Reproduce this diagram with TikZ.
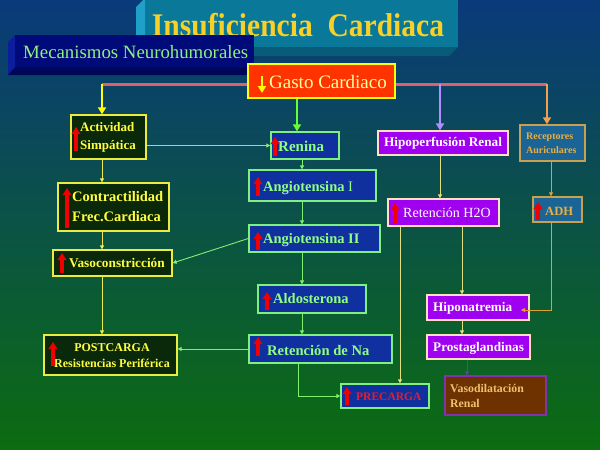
\documentclass[tikz,border=0pt]{standalone}
\usepackage{fontspec}
\setmainfont{Liberation Serif}
\usetikzlibrary{arrows.meta}
\definecolor{bgtop}{RGB}{10,58,122}
\definecolor{bgbot}{RGB}{12,108,16}
\definecolor{titleface}{RGB}{10,120,152}
\definecolor{titleleft}{RGB}{30,160,200}
\definecolor{titlebot}{RGB}{8,92,120}
\definecolor{titletext}{RGB}{248,208,40}
\definecolor{mecface}{RGB}{0,10,120}
\definecolor{mecleft}{RGB}{12,30,155}
\definecolor{mecbot}{RGB}{0,6,88}
\definecolor{mectext}{RGB}{144,240,128}
\definecolor{gastofill}{RGB}{255,51,0}
\definecolor{gastoborder}{RGB}{255,255,0}
\definecolor{gastotext}{RGB}{255,255,160}
\definecolor{pinkline}{RGB}{224,96,106}
\definecolor{ydrop}{RGB}{255,255,0}
\definecolor{gdrop}{RGB}{102,255,51}
\definecolor{ldrop}{RGB}{176,144,255}
\definecolor{odrop}{RGB}{240,160,80}
\definecolor{yfill}{RGB}{10,40,10}
\definecolor{yborder}{RGB}{236,236,64}
\definecolor{ytext}{RGB}{255,255,64}
\definecolor{yline}{RGB}{236,236,80}
\definecolor{gfill}{RGB}{16,48,160}
\definecolor{gborder}{RGB}{128,240,128}
\definecolor{gtext}{RGB}{144,255,128}
\definecolor{gline}{RGB}{128,240,112}
\definecolor{pfill}{RGB}{160,0,240}
\definecolor{pborder}{RGB}{255,224,192}
\definecolor{pline}{RGB}{224,224,128}
\definecolor{ofill}{RGB}{26,100,150}
\definecolor{oborder}{RGB}{200,160,80}
\definecolor{otext}{RGB}{232,176,64}
\definecolor{oline}{RGB}{224,160,48}
\definecolor{vfill}{RGB}{110,50,0}
\definecolor{vborder}{RGB}{130,50,170}
\definecolor{vtext}{RGB}{240,192,112}
\definecolor{vline}{RGB}{120,48,200}
\definecolor{prectext}{RGB}{224,32,48}
\definecolor{redarr}{RGB}{240,0,0}
\begin{document}
\begin{tikzpicture}[x=1pt,y=-1pt,
  boxbase/.style={inner sep=0pt, line width=1.3pt},
  ybox/.style={boxbase, draw=yborder, fill=yfill},
  gbox/.style={boxbase, draw=gborder, fill=gfill},
  pbox/.style={boxbase, draw=pborder, fill=pfill},
  obox/.style={boxbase, draw=oborder, fill=ofill},
  vbox/.style={boxbase, draw=vborder, fill=vfill},
  txt/.style={inner sep=0pt, anchor=west, align=left},
  thin/.style={line width=0.9pt, -{Triangle[length=4pt,width=4pt]}},
  ylc/.style={thin, draw=yline},
  glc/.style={thin, draw=gline},
  plc/.style={thin, draw=pline},
  olc/.style={thin, draw=oline},
  vlc/.style={thin, draw=vline},
  drop/.style={line width=2.6pt, -{Triangle[length=7pt,width=8pt]}},
  redup/.style={draw=redarr, line width=3.5pt, -{Triangle[length=7pt,width=8.5pt]}}
]
\useasboundingbox (0,0) rectangle (600,450);
\shade[top color=bgtop, bottom color=bgbot] (0,0) rectangle (600,450);

% title box
\fill[titleface] (145,-2) rectangle (458,47);
\fill[titleleft] (145,-2) -- (136,7) -- (136,56) -- (145,47) -- cycle;
\fill[titlebot] (145,47) -- (136,56) -- (449,56) -- (458,47) -- cycle;
\node[inner sep=0pt, xscale=0.895, font=\bfseries\fontsize{33}{36}\selectfont, text=titletext] (title) at (298,25) {Insuficiencia\ \ Cardiaca};

% subtitle box
\fill[mecface] (15,35) rectangle (254,67);
\fill[mecleft] (15,35) -- (8,42) -- (8,75) -- (15,67) -- cycle;
\fill[mecbot] (15,67) -- (8,75) -- (246,75) -- (254,67) -- cycle;
\node[txt, font=\fontsize{18.8}{22}\selectfont, text=mectext] (mec) at (23,52) {Mecanismos Neurohumorales};

% distribution line
\coordinate (pl1) at (102,84);
\coordinate (pl2) at (440,84);
\coordinate (pl3) at (547,84);
\draw[pinkline, line width=3pt] (pl1) -- (pl3);

% Gasto Cardiaco
\node[inner sep=0pt, draw=gastoborder, fill=gastofill, line width=2pt, minimum width=147pt, minimum height=34pt] (gasto) at (321.5,81) {};
\node[txt, font=\fontsize{19}{22}\selectfont, text=gastotext] (tgasto) at (269,82) {Gasto Cardiaco};
\draw[gastoborder, line width=2.5pt, -{Triangle[length=7pt,width=8pt]}] (262,76) -- (262,93);

% boxes
\node[ybox, minimum width=75pt, minimum height=44pt] (act) at (108.5,137) {};
\node[ybox, minimum width=111pt, minimum height=48pt] (con) at (113.5,207) {};
\node[ybox, minimum width=119pt, minimum height=26pt] (vaso) at (112.5,263) {};
\node[ybox, minimum width=133pt, minimum height=40pt] (post) at (110.5,355) {};
\node[gbox, minimum width=68pt, minimum height=27pt] (ren) at (305,145.5) {};
\node[gbox, minimum width=127pt, minimum height=31pt] (ang1) at (312.5,185.5) {};
\node[gbox, minimum width=131pt, minimum height=27pt] (ang2) at (314.5,238.5) {};
\node[gbox, minimum width=108pt, minimum height=28pt] (aldo) at (312,299) {};
\node[gbox, minimum width=143pt, minimum height=28pt] (retna) at (320.5,349) {};
\node[gbox, minimum width=88pt, minimum height=24pt] (prec) at (385,396) {};
\node[pbox, minimum width=130pt, minimum height=24pt] (hipo) at (443,143) {};
\node[pbox, minimum width=111pt, minimum height=27pt] (rh2o) at (443.5,212.5) {};
\node[obox, minimum width=65pt, minimum height=36pt] (recep) at (552.5,143) {};
\node[obox, minimum width=49pt, minimum height=25pt] (adh) at (557.5,209.5) {};
\node[pbox, minimum width=102pt, minimum height=25pt] (hipon) at (478,307.5) {};
\node[pbox, minimum width=103pt, minimum height=24pt] (prost) at (478.5,347) {};
\node[vbox, minimum width=101pt, minimum height=39pt] (vasod) at (495.5,395.5) {};

% texts
\node[txt, font=\bfseries\fontsize{13}{18}\selectfont, text=ytext] (tact) at (80,137) {Actividad\\Simpática};
\node[txt, font=\bfseries\fontsize{14.5}{20}\selectfont, text=ytext] (tcon) at (72,207) {Contractilidad\\Frec.Cardiaca};
\node[txt, font=\bfseries\fontsize{13.3}{16}\selectfont, text=ytext] (tvaso) at (69,263) {Vasoconstricción};
\node[inner sep=0pt, align=center, font=\bfseries\fontsize{12}{16}\selectfont, text=ytext] (tpost) at (112,356) {POSTCARGA\\Resistencias Periférica};
\node[txt, font=\bfseries\fontsize{15}{18}\selectfont, text=gtext] (tren) at (278,146) {Renina};
\node[txt, font=\bfseries\fontsize{14.5}{18}\selectfont, text=gtext] (tang1) at (263,188) {Angiotensina \mdseries I};
\node[txt, font=\bfseries\fontsize{14.5}{18}\selectfont, text=gtext] (tang2) at (263,240) {Angiotensina II};
\node[txt, font=\bfseries\fontsize{14.5}{18}\selectfont, text=gtext] (taldo) at (273,299) {Aldosterona};
\node[txt, font=\bfseries\fontsize{14.6}{18}\selectfont, text=gtext] (tretna) at (267,350) {Retención de Na};
\node[txt, font=\bfseries\fontsize{11.5}{14}\selectfont, text=prectext] (tprec) at (356,397) {PRECARGA};
\node[txt, font=\bfseries\fontsize{13.2}{16}\selectfont, text=white] (thipo) at (384,143) {Hipoperfusión Renal};
\node[txt, font=\fontsize{14}{17}\selectfont, text=white] (trh2o) at (403,213) {Retención H2O};
\node[txt, font=\bfseries\fontsize{10}{14}\selectfont, text=otext] (trecep) at (526,143) {Receptores\\Auriculares};
\node[txt, font=\bfseries\fontsize{12.6}{15}\selectfont, text=otext] (tadh) at (545,211) {ADH};
\node[txt, font=\bfseries\fontsize{13.2}{16}\selectfont, text=white] (thipon) at (433,308) {Hiponatremia};
\node[txt, font=\bfseries\fontsize{13.2}{16}\selectfont, text=white] (tprost) at (433,348) {Prostaglandinas};
\node[txt, font=\bfseries\fontsize{11.8}{15}\selectfont, text=vtext] (tvasod) at (450,395.5) {Vasodilatación\\Renal};

% red arrows
\draw[redup] (76,151) -- (76,127);
\draw[redup] (67,228) -- (67,188);
\draw[redup] (62,273) -- (62,253);
\draw[redup] (53,366) -- (53,342);
\draw[redup] (275,156) -- (275,137);
\draw[redup] (258,196) -- (258,177);
\draw[redup] (258,250) -- (258,232);
\draw[redup] (267,310) -- (267,292);
\draw[redup] (258,356) -- (258,337);
\draw[redup] (347,405) -- (347,387);
\draw[redup] (395,224) -- (395,203);
\draw[redup] (538,220) -- (538,202);

% drop arrows from distribution line
\coordinate (gx) at (297,0);
\draw[drop, ydrop] (pl1) -- (pl1 |- act.north);
\draw[drop, gdrop] (gx |- gasto.south) -- (gx |- ren.north);
\draw[drop, ldrop] (pl2) -- (pl2 |- hipo.north);
\draw[drop, odrop] (pl3) -- (pl3 |- recep.north);

% columns
\coordinate (lx) at (102,0);
\coordinate (mx) at (302,0);
\coordinate (rx) at (298,0);
\coordinate (hx) at (440,0);
\coordinate (px) at (400,0);
\coordinate (kx) at (462,0);
\coordinate (vx) at (467,0);
\coordinate (ax) at (551,0);
\coordinate (hend) at (521,310);

% connectors
\draw[ylc] (lx |- act.south) -- (lx |- con.north);
\draw[ylc] (lx |- con.south) -- (lx |- vaso.north);
\draw[ylc] (lx |- vaso.south) -- (lx |- post.north);
\draw[glc] (act.east |- ren.west) -- (ren.west);
\draw[glc] (mx |- ren.south) -- (mx |- ang1.north);
\draw[glc] (mx |- ang1.south) -- (mx |- ang2.north);
\draw[glc] (ang2.west) -- (vaso.east);
\draw[glc] (mx |- ang2.south) -- (mx |- aldo.north);
\draw[glc] (mx |- aldo.south) -- (mx |- retna.north);
\draw[glc] (retna.west) -- (retna.west -| post.east);
\draw[glc] (rx |- retna.south) |- (prec.west);
\draw[plc] (hx |- hipo.south) -- (hx |- rh2o.north);
\draw[plc] (px |- rh2o.south) -- (px |- prec.north);
\draw[plc] (kx |- rh2o.south) -- (kx |- hipon.north);
\draw[plc] (kx |- hipon.south) -- (kx |- prost.north);
\draw[vlc] (vx |- prost.south) -- (vx |- vasod.north);
\draw[olc] (ax |- recep.south) -- (ax |- adh.north);
\draw[olc] (ax |- adh.south) |- (hend);
\end{tikzpicture}
\end{document}
